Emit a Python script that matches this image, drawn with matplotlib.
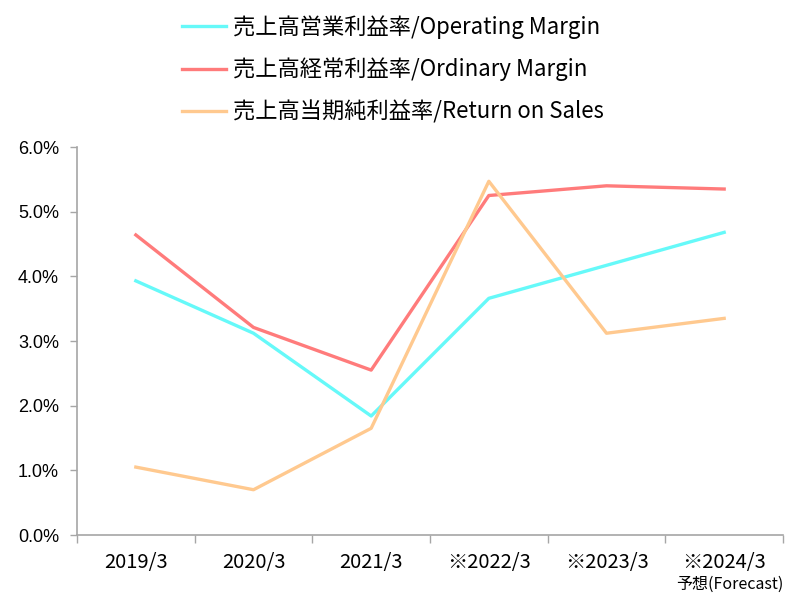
import matplotlib
matplotlib.use("Agg")
import matplotlib.pyplot as plt
from matplotlib.ticker import FuncFormatter, FixedLocator, NullFormatter

categories = ["2019/3", "2020/3", "2021/3", "※2022/3", "※2023/3", "※2024/3"]
operating = [3.93, 3.12, 1.84, 3.66, 4.17, 4.68]
ordinary = [4.64, 3.21, 2.55, 5.25, 5.40, 5.35]
net = [1.05, 0.70, 1.65, 5.47, 3.12, 3.35]
labels = ["売上高営業利益率/Operating Margin",
          "売上高経常利益率/Ordinary Margin",
          "売上高当期純利益率/Return on Sales"]
colors = ["#66F9F9", "#FF7B7B", "#FFC98F"]

plt.rcParams['font.family'] = ['Liberation Sans', 'Noto Sans CJK JP', 'DejaVu Sans']

fig = plt.figure(figsize=(7.9, 5.95), dpi=100)
ax = fig.add_axes([77/790, 1-535/595, (783-77)/790, (535-147)/595])

x = list(range(len(categories)))
for vals, c, lab in zip([operating, ordinary, net], colors, labels):
    ax.plot(x, vals, color=c, lw=2.4, label=lab, solid_joinstyle='round')

ax.set_xlim(-0.5, len(categories) - 0.5)
ax.set_ylim(0, 6)
ax.set_yticks([0, 1, 2, 3, 4, 5, 6])
ax.yaxis.set_major_formatter(FuncFormatter(lambda v, p: f"{v:.1f}%"))
for s in ["top", "right"]:
    ax.spines[s].set_visible(False)
for s in ["left", "bottom"]:
    ax.spines[s].set_color("#A6A6A6")
    ax.spines[s].set_linewidth(1.2)
ax.tick_params(axis='y', colors="#A6A6A6", length=5, width=1, labelcolor="black", labelsize=13, pad=8)

ax.xaxis.set_major_locator(FixedLocator([i - 0.5 for i in range(len(categories) + 1)]))
ax.xaxis.set_major_formatter(NullFormatter())
ax.xaxis.set_minor_locator(FixedLocator(x))
ax.set_xticklabels(categories, minor=True)
ax.tick_params(axis='x', which='major', colors="#A6A6A6", length=6, width=1)
ax.tick_params(axis='x', which='minor', length=0, pad=12)
for t in ax.get_xticklabels(minor=True):
    t.set_fontfamily(['Noto Sans CJK JP', 'DejaVu Sans'])
    t.set_fontsize(14.5)

ax.text(len(categories) - 1 + 0.05, -0.76, "予想(Forecast)", ha='center', va='center', fontsize=11.5,
        family=['Noto Sans CJK JP', 'DejaVu Sans'])

handles, labs = ax.get_legend_handles_labels()
leg = fig.legend(handles, labs, loc='upper left', bbox_to_anchor=(162/790, 1 + 5/595),
                 frameon=False, handlelength=2.0, handletextpad=0.3, labelspacing=0.85,
                 prop={'family': ['Noto Sans CJK JP', 'DejaVu Sans'], 'size': 16})

fig.savefig("out.png", dpi=100)
